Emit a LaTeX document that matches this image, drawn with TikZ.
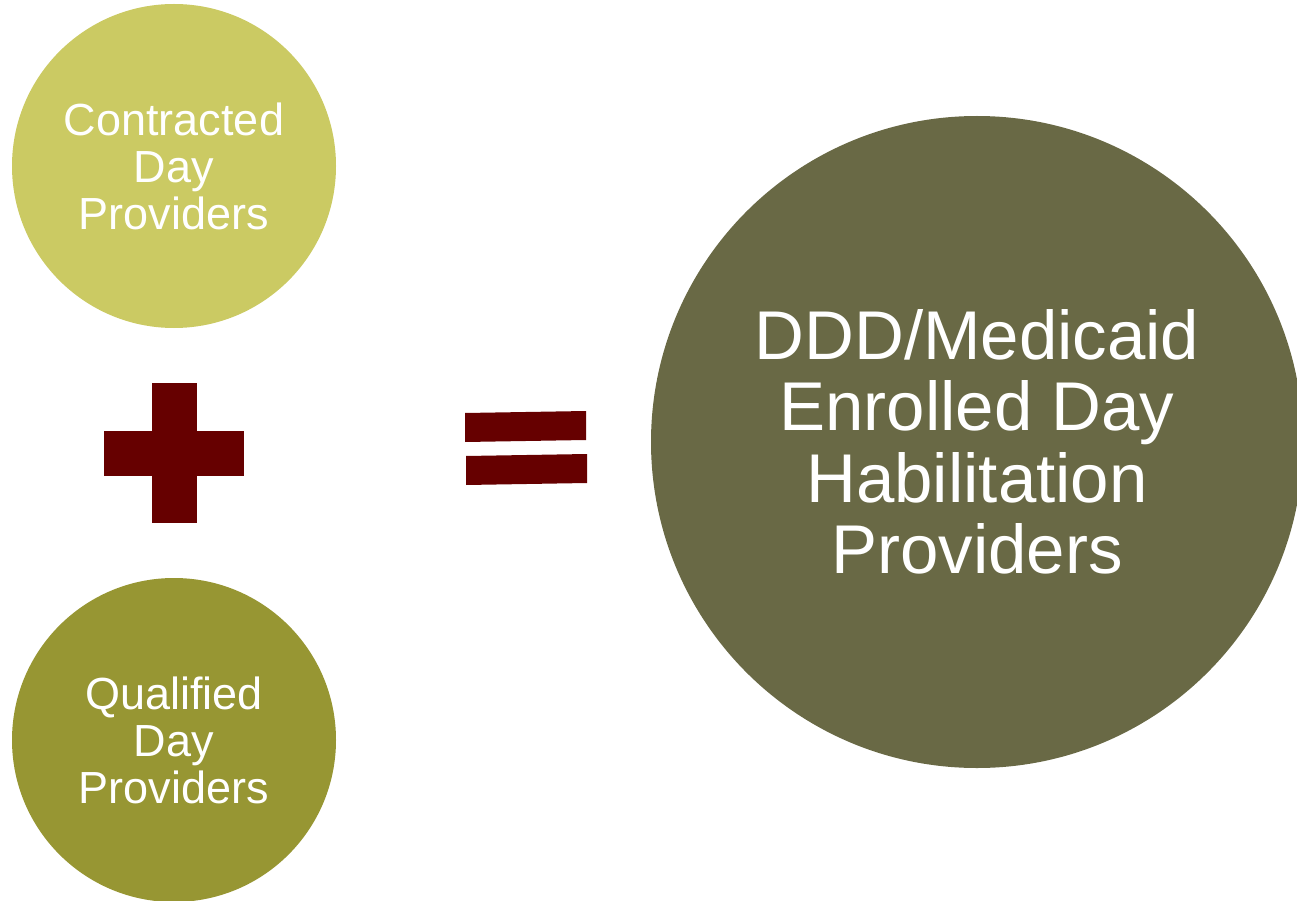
\documentclass[tikz,border=0pt]{standalone}
\usepackage{fontspec}
\setmainfont{Liberation Sans}
\definecolor{contrcol}{HTML}{CBCA63}
\definecolor{qualcol}{HTML}{979633}
\definecolor{enrolcol}{HTML}{696945}
\definecolor{signcol}{HTML}{660000}
\begin{document}
\begin{tikzpicture}[
	x=1pt,y=-1pt,
	provider/.style={circle,inner sep=0pt,minimum size=324pt,text=white,align=center,font=\fontsize{45}{47}\selectfont},
	sign/.style={fill=signcol,draw=none}
	]
	\useasboundingbox (0,0) rectangle (1297,901);
	
	\node[provider,fill=contrcol] (contr) at (174,166) {Contracted\\Day\\Providers};
	\node[provider,fill=qualcol] (qual) at (174,740) {Qualified\\Day\\Providers};
	\node[provider,fill=enrolcol,minimum size=652pt,font=\fontsize{69}{71.5}\selectfont] (enrol) at (977,442) {DDD/Medicaid\\Enrolled Day\\Habilitation\\Providers};
	
	% plus
	\fill[sign] (152,383) rectangle (197,523);
	\fill[sign] (104,431) rectangle (244,476);
	% equals
	\fill[sign] (465,413) -- (586,411) -- (586,440) -- (465,442) -- cycle;
	\fill[sign] (466,456) -- (587,454) -- (587,483) -- (466,485) -- cycle;
\end{tikzpicture}
\end{document}
